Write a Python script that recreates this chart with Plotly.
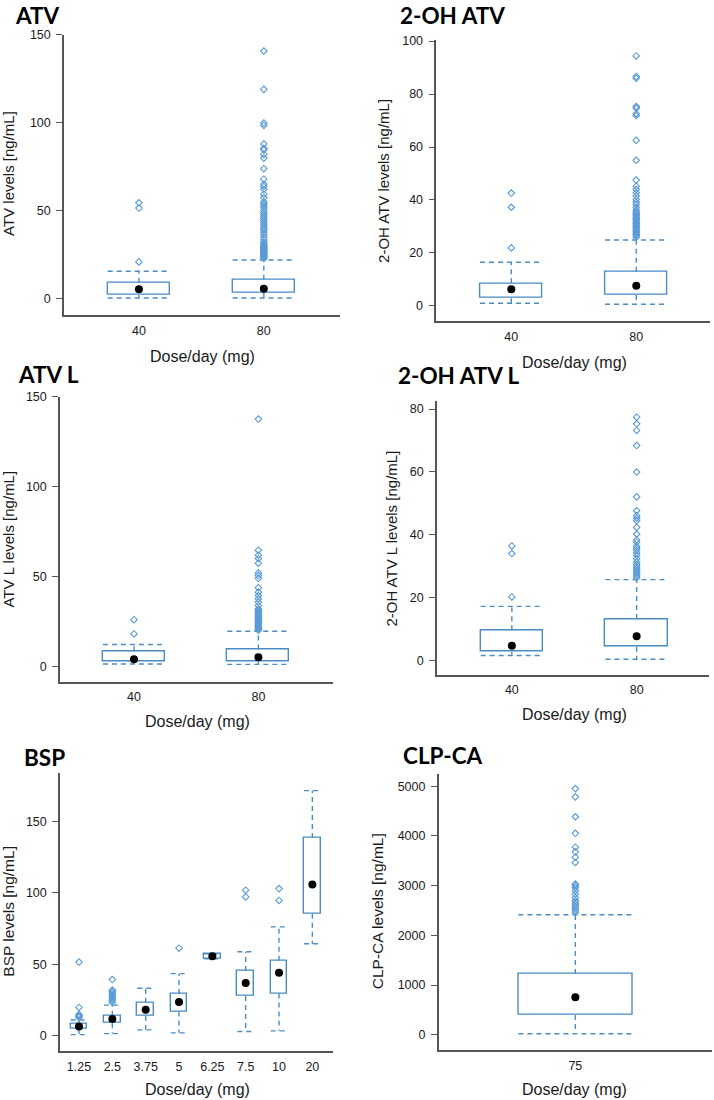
import plotly.graph_objects as go

# ---------------- DATA ----------------
# ATV
atv_cats = ["40", "80"]
atv_low = [0.4, 0.4]
atv_q1 = [2.1, 3.4]
atv_med = [5.3, 5.6]
atv_q3 = [9.0, 10.7]
atv_up = [15.6, 22.0]
atv_out_40 = [20.9, 51.5, 54.5]
atv_out_80 = [22.8, 23.3, 23.8, 24.2, 24.7, 25.1, 25.6, 26.0, 26.5, 27.0, 27.4, 27.9,
              28.4, 28.8, 29.3, 29.8, 30.3, 31.2, 32.1, 33.5, 35.0, 36.5, 37.8, 39.1,
              40.0, 41.0, 42.1, 43.3, 44.4, 45.5, 46.6, 47.7, 48.8, 50.0, 51.5, 52.8,
              53.9, 55.1, 57.5, 59.4, 62.2, 63.8, 65.0, 67.9, 73.9, 79.9, 82.0, 84.6,
              85.5, 88.0, 98.5, 99.8, 119.0, 140.8]

# 2-OH ATV
oh_cats = ["40", "80"]
oh_low = [1.0, 0.6]
oh_q1 = [2.9, 4.1]
oh_med = [6.25, 7.6]
oh_q3 = [8.5, 12.9]
oh_up = [16.5, 24.9]
oh_out_40 = [21.9, 37.25, 42.6]
oh_out_80 = [25.9, 26.5, 27.0, 27.5, 28.0, 28.5, 29.0, 29.5, 30.0, 30.5, 31.0, 31.5,
             32.0, 32.5, 33.0, 33.5, 34.0, 34.5, 35.0, 35.5, 36.2, 37.2, 38.2, 39.1,
             40.2, 41.5, 42.7, 44.0, 45.2, 47.5, 55.0, 62.5, 71.9, 72.6, 74.7, 75.3,
             86.0, 86.6, 94.4]

# ATV L
atvl_cats = ["40", "80"]
atvl_low = [1.5, 1.3]
atvl_q1 = [2.8, 2.8]
atvl_med = [4.2, 5.3]
atvl_q3 = [8.6, 9.6]
atvl_up = [12.3, 19.7]
atvl_out_40 = [18.2, 26.1]
atvl_out_80 = [20.2, 20.8, 21.4, 22.0, 22.6, 23.2, 23.8, 24.4, 25.0, 25.6, 26.3, 27.0,
               27.7, 28.4, 29.1, 29.8, 30.5, 31.3, 32.2, 34.0, 35.9, 37.7, 39.5, 41.4,
               43.9, 49.1, 50.6, 52.0, 57.5, 60.1, 61.9, 64.7, 137.5]

# 2-OH ATV L
ohl_cats = ["40", "80"]
ohl_low = [1.7, 0.5]
ohl_q1 = [2.9, 4.5]
ohl_med = [4.8, 7.8]
ohl_q3 = [9.7, 13.3]
ohl_up = [17.3, 25.8]
ohl_out_40 = [20.3, 34.1, 36.5]
ohl_out_80 = [26.4, 27.0, 27.6, 28.2, 28.8, 29.4, 30.0, 30.6, 31.4, 32.4, 33.5, 34.3,
              35.1, 35.8, 36.4, 37.7, 38.5, 40.3, 42.4, 44.5, 45.3, 46.1, 47.7, 52.1,
              60.0, 68.4, 73.2, 75.3, 77.4]

# BSP
bsp_cats = ["1.25", "2.5", "3.75", "5", "6.25", "7.5", "10", "20"]
bsp_low = [0.9, 1.6, 4.2, 2.1, 53.9, 3.0, 3.5, 64.4]
bsp_q1 = [4.9, 8.8, 13.9, 17.1, 53.9, 27.8, 29.6, 85.4]
bsp_med = [6.5, 11.8, 18.3, 23.6, 55.6, 37.0, 44.2, 105.8]
bsp_q3 = [8.3, 14.1, 23.1, 29.2, 57.4, 45.4, 52.5, 138.4]
bsp_up = [11.1, 21.5, 33.3, 43.5, 57.4, 58.8, 76.2, 171.5]
bsp_out = [
    [12.9, 13.6, 14.3, 15.0, 19.9, 51.6],
    [23.4, 24.6, 25.8, 27.0, 28.3, 29.5, 30.8, 32.0, 39.4],
    [],
    [61.3],
    [],
    [97.2, 101.9],
    [94.7, 103.0],
    [],
]

# CLP-CA
clp_cats = ["75"]
clp_low = [20]
clp_q1 = [400]
clp_med = [753]
clp_q3 = [1220]
clp_up = [2413]
clp_out_75 = [2460, 2500, 2540, 2580, 2620, 2660, 2700, 2760, 2830, 2900, 2960, 3000,
              3030, 3467, 3573, 3680, 3773, 4052, 4386, 4786, 4952]

panel_titles = ["ATV", "2-OH ATV", "ATV L", "2-OH ATV L", "BSP", "CLP-CA"]
y_titles = ["ATV levels [ng/mL]", "2-OH ATV levels [ng/mL]", "ATV L levels [ng/mL]",
            "2-OH ATV L levels [ng/mL]", "BSP levels [ng/mL]", "CLP-CA levels [ng/mL]"]
x_title = "Dose/day (mg)"
y_ticks = [[0, 50, 100, 150], [0, 20, 40, 60, 80, 100], [0, 50, 100, 150],
           [0, 20, 40, 60, 80], [0, 50, 100, 150], [0, 1000, 2000, 3000, 4000, 5000]]

# ---------------- STYLE / LAYOUT ----------------
W, H = 714, 1100
BOX_C = "#4a8cc4"
OUT_C = "#5a9ad6"
AXIS_C = "#555555"
TXT_C = "#1a1a1a"
FONT = "Liberation Sans"
TFONT = "Lato"
BW = 0.5

panels = [
    dict(cats=atv_cats, low=atv_low, q1=atv_q1, med=atv_med, q3=atv_q3, up=atv_up,
         outs=[atv_out_40, atv_out_80],
         xd=(64, 340), yd=(28, 310), xr=(-0.6, 1.61), yr=(-9.3, 150)),
    dict(cats=oh_cats, low=oh_low, q1=oh_q1, med=oh_med, q3=oh_q3, up=oh_up,
         outs=[oh_out_40, oh_out_80],
         xd=(436.3, 710), yd=(33, 316.5), xr=(-0.6, 1.59), yr=(-5.9, 100.5)),
    dict(cats=atvl_cats, low=atvl_low, q1=atvl_q1, med=atvl_med, q3=atvl_q3, up=atvl_up,
         outs=[atvl_out_40, atvl_out_80],
         xd=(60, 333), yd=(392, 679), xr=(-0.595, 1.6), yr=(-8.3, 150)),
    dict(cats=ohl_cats, low=ohl_low, q1=ohl_q1, med=ohl_med, q3=ohl_q3, up=ohl_up,
         outs=[ohl_out_40, ohl_out_80],
         xd=(437, 709), yd=(397, 672), xr=(-0.6, 1.58), yr=(-4.4, 82.4)),
    dict(cats=bsp_cats, low=bsp_low, q1=bsp_q1, med=bsp_med, q3=bsp_q3, up=bsp_up,
         outs=bsp_out,
         xd=(60, 332.7), yd=(770.7, 1050.7), xr=(-0.57, 7.61), yr=(-10.6, 184)),
    dict(cats=clp_cats, low=clp_low, q1=clp_q1, med=clp_med, q3=clp_q3, up=clp_up,
         outs=[clp_out_75],
         xd=(438.7, 712), yd=(771.7, 1050), xr=(-0.6, 0.6), yr=(-313, 5250)),
]

# annotation positions (pixels)
title_pos = [(13, 9), (398, 9), (16, 370), (396, 371), (22, 755), (401, 753)]
ytitle_pos = [(9, 168), (384, 175), (9, 536), (392, 535), (8.5, 910), (377, 910)]
xtitle_pos = [(202, 352), (574, 358), (197, 719), (574, 712), (197, 1089), (574, 1089)]
ytitle_size = [15, 15, 15, 15, 15.5, 15.5]


def fx(x):
    return x / W


def fy(y):
    return 1 - y / H


fig = go.Figure()
layout = dict(width=W, height=H, margin=dict(l=0, r=0, t=0, b=0),
              paper_bgcolor="white", plot_bgcolor="white", showlegend=False,
              font=dict(family=FONT, color=TXT_C, size=12), annotations=[])

for k, p in enumerate(panels):
    n = k + 1
    xa = "x" if n == 1 else f"x{n}"
    ya = "y" if n == 1 else f"y{n}"
    pos = list(range(len(p["cats"])))

    # whiskers (dashed)
    wx, wy, cx, cy = [], [], [], []
    for i in pos:
        wx += [i, i, None, i, i, None]
        wy += [p["q3"][i], p["up"][i], None, p["q1"][i], p["low"][i], None]
        cx += [i - BW / 2, i + BW / 2, None, i - BW / 2, i + BW / 2, None]
        cy += [p["up"][i], p["up"][i], None, p["low"][i], p["low"][i], None]
    fig.add_trace(go.Scatter(x=wx + cx, y=wy + cy, mode="lines", xaxis=xa, yaxis=ya,
                             line=dict(color=BOX_C, width=1.4, dash="5px,4px"),
                             hoverinfo="skip"))
    # boxes
    fig.add_trace(go.Bar(x=pos, y=[p["q3"][i] - p["q1"][i] for i in pos],
                         base=p["q1"], width=BW, xaxis=xa, yaxis=ya,
                         marker=dict(color="rgba(255,255,255,1)",
                                     line=dict(color=BOX_C, width=1.4))))
    # outliers
    ox, oy = [], []
    for i in pos:
        ox += [i] * len(p["outs"][i])
        oy += p["outs"][i]
    fig.add_trace(go.Scatter(x=ox, y=oy, mode="markers", xaxis=xa, yaxis=ya,
                             marker=dict(symbol="diamond-open", size=5,
                                         color=OUT_C, line=dict(width=1.1, color=OUT_C))))
    # medians
    fig.add_trace(go.Scatter(x=pos, y=p["med"], mode="markers", xaxis=xa, yaxis=ya,
                             marker=dict(symbol="circle", size=8, color="black")))

    layout["xaxis" if n == 1 else f"xaxis{n}"] = dict(
        domain=[fx(p["xd"][0]), fx(p["xd"][1])], range=list(p["xr"]),
        anchor=ya, showgrid=False, zeroline=False, showline=True,
        linecolor=AXIS_C, linewidth=1.5, tickmode="array", tickvals=pos,
        ticktext=p["cats"], ticks="outside", ticklen=3, tickcolor="rgba(0,0,0,0)",
        tickfont=dict(size=12.5, family=FONT, color=TXT_C), fixedrange=True)
    layout["yaxis" if n == 1 else f"yaxis{n}"] = dict(
        domain=[fy(p["yd"][1]), fy(p["yd"][0])], range=list(p["yr"]),
        anchor=xa, showgrid=False, zeroline=False, showline=True,
        linecolor=AXIS_C, linewidth=1.5, tickmode="array", tickvals=y_ticks[k],
        ticks="outside", ticklen=6, tickcolor=AXIS_C, tickwidth=1.2,
        ticklabelstandoff=3,
        tickfont=dict(size=12.5, family=FONT, color=TXT_C), fixedrange=True)

    tx, ty = title_pos[k]
    layout["annotations"].append(dict(
        text=f"<b>{panel_titles[k]}</b>", x=fx(tx), y=fy(ty), xref="paper", yref="paper",
        xanchor="left", yanchor="middle", showarrow=False,
        font=dict(family=TFONT, size=22.5, color="black")))
    yx, yy = ytitle_pos[k]
    layout["annotations"].append(dict(
        text=y_titles[k], x=fx(yx), y=fy(yy), xref="paper", yref="paper",
        xanchor="center", yanchor="middle", textangle=-90, showarrow=False,
        font=dict(family=FONT, size=ytitle_size[k], color=TXT_C)))
    xx, xy = xtitle_pos[k]
    layout["annotations"].append(dict(
        text=x_title, x=fx(xx), y=fy(xy), xref="paper", yref="paper",
        xanchor="center", yanchor="middle", showarrow=False,
        font=dict(family=FONT, size=16, color=TXT_C)))

fig.update_layout(**layout)
fig.update_layout(bargap=0)
fig.write_html("out.html", config={"displayModeBar": False},
               post_script="document.body.style.margin='0px';"
                           "document.body.style.padding='0px';")
